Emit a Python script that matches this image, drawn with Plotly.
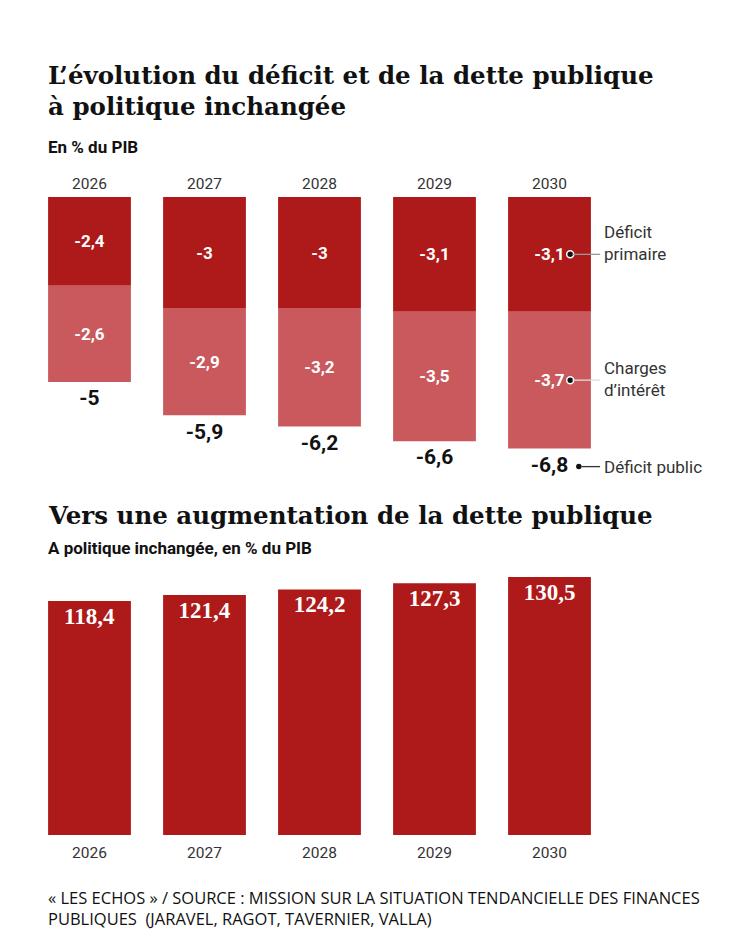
import plotly.graph_objects as go

# the page body adds an 8 px margin, so the figure is shrunk and shifted by it
OFF = 8
W, H = 750 - 2 * OFF, 938 - 2 * OFF

years = ["2026", "2027", "2028", "2029", "2030"]
deficit_primaire = [-2.4, -3.0, -3.0, -3.1, -3.1]
charges_interet = [-2.6, -2.9, -3.2, -3.5, -3.7]
dette = [118.4, 121.4, 124.2, 127.3, 130.5]

DARK = "#ae1919"
LIGHT = "#c9595d"
SANS = "Roboto"
SERIF = "DejaVu Serif"

deficit_public = [round(a + b, 1) for a, b in zip(deficit_primaire, charges_interet)]
xs = list(range(len(years)))


def fr(v):
    return f"{v:g}".replace(".", ",")


# page geometry in pixels of the 750x938 window
TOP0, TOP_BOTTOM, TOP_SCALE = 197, 497, 37.0     # px per point of GDP
BOT0, BOT_TOP, BOT_SCALE = 835, 560, 1.977
X0, PITCH = 89.5, 115.0
TOTAL_GAP = 18 / TOP_SCALE


def px(x):
    return (x - OFF) / W


def py(y):
    return 1 - (y - OFF) / H


fig = go.Figure()

fig.add_trace(go.Bar(
    x=xs, y=deficit_primaire, width=0.72, marker=dict(color=DARK, line_width=0),
    text=[fr(v) for v in deficit_primaire], textposition="inside",
    insidetextanchor="middle", textangle=0,
    textfont=dict(family=SANS, size=17, color="white", weight="bold"),
    xaxis="x", yaxis="y", hoverinfo="skip",
))
fig.add_trace(go.Bar(
    x=xs, y=charges_interet, width=0.72, marker=dict(color=LIGHT, line_width=0),
    text=[fr(v) for v in charges_interet], textposition="inside",
    insidetextanchor="middle", textangle=0,
    textfont=dict(family=SANS, size=17, color="white", weight="bold"),
    xaxis="x", yaxis="y", hoverinfo="skip",
))
# totals below each stack
fig.add_trace(go.Scatter(
    x=xs, y=[t - TOTAL_GAP for t in deficit_public], mode="text",
    text=[fr(v) for v in deficit_public], textposition="middle center",
    textfont=dict(family=SANS, size=21, color="#111", weight="bold"),
    xaxis="x", yaxis="y", hoverinfo="skip",
))

# callouts on the last bar
last = len(xs) - 1
mid_dark = deficit_primaire[last] / 2
mid_light = deficit_primaire[last] + charges_interet[last] / 2
tot_y = deficit_public[last] - TOTAL_GAP
fig.add_trace(go.Scatter(
    x=[last + 0.18, last + 0.18, last + 0.255], y=[mid_dark, mid_light, tot_y],
    mode="markers",
    marker=dict(size=7, color="#111", line=dict(color="white", width=1.5)),
    xaxis="x", yaxis="y", hoverinfo="skip",
))
for x_start, yv, col in [(last + 0.2, mid_dark, "#999"), (last + 0.2, mid_light, "#ddd"),
                         (last + 0.28, tot_y, "#333")]:
    fig.add_shape(type="line", xref="x", yref="y", x0=x_start, x1=last + 0.44,
                  y0=yv, y1=yv, line=dict(color=col, width=1.3), layer="above")

lab_x = last + 0.455
for txt, yv, ys in [("Déficit<br>primaire", mid_dark, 11), ("Charges<br>d’intérêt", mid_light, 1),
                    ("Déficit public", tot_y, 0)]:
    fig.add_annotation(x=lab_x, y=yv, xref="x", yref="y", text=txt, showarrow=False,
                       xanchor="left", yanchor="middle", yshift=ys, align="left",
                       font=dict(family=SANS, size=17, color="#333"))

# debt bars
fig.add_trace(go.Bar(
    x=xs, y=dette, width=0.72, marker=dict(color=DARK, line_width=0),
    text=[fr(v) for v in dette], textposition="inside", insidetextanchor="end",
    textangle=0, textfont=dict(family="Liberation Serif", size=23, color="white", weight="bold"),
    xaxis="x2", yaxis="y2", hoverinfo="skip",
))

xrange = [-(X0 - OFF) / PITCH, (W - (X0 - OFF)) / PITCH]
fig.update_layout(
    width=W, height=H, margin=dict(l=0, r=0, t=0, b=0),
    paper_bgcolor="white", plot_bgcolor="white",
    showlegend=False, barmode="relative",
    xaxis=dict(domain=[0, 1], anchor="y", range=xrange, side="top",
               tickvals=xs, ticktext=years, ticks="", showgrid=False, zeroline=False,
               showline=False, ticklabelstandoff=4,
               tickfont=dict(family=SANS, size=15.5, color="#333")),
    yaxis=dict(domain=[py(TOP_BOTTOM), py(TOP0)],
               range=[-(TOP_BOTTOM - TOP0) / TOP_SCALE, 0],
               visible=False, showgrid=False, zeroline=False),
    xaxis2=dict(domain=[0, 1], anchor="y2", range=xrange, side="bottom",
                tickvals=xs, ticktext=years, ticks="", showgrid=False, zeroline=False,
                showline=False, ticklabelstandoff=6,
                tickfont=dict(family=SANS, size=15.5, color="#333")),
    yaxis2=dict(domain=[py(BOT0), py(BOT_TOP)], range=[0, (BOT0 - BOT_TOP) / BOT_SCALE],
                visible=False, showgrid=False, zeroline=False),
)

texts = [
    ("L’évolution du déficit et de la dette publique", 75, SERIF, 24.5, "bold"),
    ("à politique inchangée", 107, SERIF, 24.5, "bold"),
    ("En % du PIB", 147, SANS, 17, "bold"),
    ("Vers une augmentation de la dette publique", 515, SERIF, 24.5, "bold"),
    ("A politique inchangée, en % du PIB", 548, SANS, 17, "bold"),
    ("« LES ECHOS » / SOURCE : MISSION SUR LA SITUATION TENDANCIELLE DES FINANCES<br>"
     "PUBLIQUES  (JARAVEL, RAGOT, TAVERNIER, VALLA)", 908, "Open Sans", 16.5, 500),
]
for txt, yc, fam, size, weight in texts:
    fig.add_annotation(x=px(46), y=py(yc), xref="paper", yref="paper", text=txt,
                       showarrow=False, xanchor="left", yanchor="middle", align="left",
                       font=dict(family=fam, size=size, color="#111", weight=weight))

fig.write_html("out.html")
